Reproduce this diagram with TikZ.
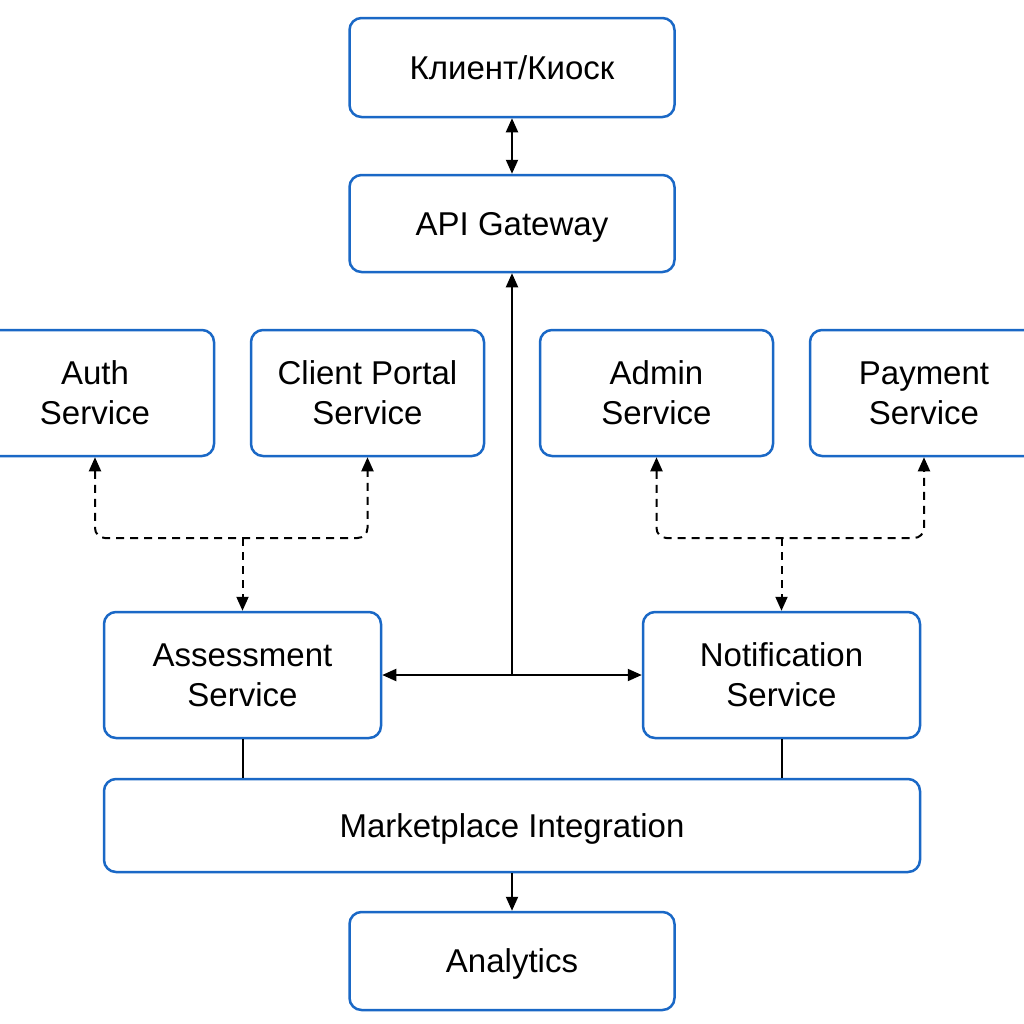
\documentclass[tikz,border=0pt]{standalone}
\usepackage{fontspec}
\setmainfont{Liberation Sans}
\usetikzlibrary{arrows.meta}
\definecolor{boxblue}{RGB}{26,104,198}
\tikzset{
  box/.style={draw=boxblue, line width=1.25pt, rounded corners=6pt, fill=white,
    align=center, font=\fontsize{16.5}{20}\selectfont, inner sep=0pt},
  onebox/.style={box, text depth=0pt},
  conn/.style={line width=1pt, draw=black, -{Triangle[length=7pt,width=6pt]}},
  biconn/.style={line width=1pt, draw=black, {Triangle[length=7pt,width=6pt]}-{Triangle[length=7pt,width=6pt]}},
  dconn/.style={line width=1pt, draw=black, dash pattern=on 4pt off 3pt, rounded corners=5pt},
  plain/.style={line width=1pt, draw=black}
}
\begin{document}
\begin{tikzpicture}[x=0.5pt,y=-0.5pt]
\clip (0,0) rectangle (1024,1024);
\fill[white] (0,0) rectangle (1024,1024);
\node[onebox, minimum width=162.5pt, minimum height=49.5pt] (client) at (512,67.5) {Клиент/Киоск};
\node[onebox, minimum width=162.5pt, minimum height=48.5pt] (api) at (512,223.5) {API Gateway};
\node[box, minimum width=119pt, minimum height=63pt] (auth) at (95,393) {Auth\\Service};
\node[box, minimum width=116.5pt, minimum height=63pt] (cps) at (367.5,393) {Client Portal\\Service};
\node[box, minimum width=116.5pt, minimum height=63pt] (admin) at (656.5,393) {Admin\\Service};
\node[box, minimum width=114pt, minimum height=63pt] (pay) at (924,393) {Payment\\Service};
\node[box, minimum width=138.5pt, minimum height=63pt] (assess) at (242.5,675) {Assessment\\Service};
\node[box, minimum width=138.5pt, minimum height=63pt] (notif) at (781.5,675) {Notification\\Service};
\node[onebox, minimum width=408pt, minimum height=46.5pt] (market) at (512,825.5) {Marketplace Integration};
\node[onebox, minimum width=162.5pt, minimum height=49pt] (analytics) at (512,961) {Analytics};

\coordinate (hub) at (512,675);
\coordinate (jl) at (242.5,538);
\coordinate (jr) at (781.5,538);

\draw[biconn] (client) -- (api);
\draw[conn] (hub) -- (api);
\draw[conn] (hub) -- (assess);
\draw[conn] (hub) -- (notif);

\draw[dconn, {Triangle[length=7pt,width=6pt]}-{Triangle[length=7pt,width=6pt]}] (auth.south) |- (jl) -| (cps.south);
\draw[dconn, -{Triangle[length=7pt,width=6pt]}] (jl) -- (assess.north);
\draw[dconn, {Triangle[length=7pt,width=6pt]}-{Triangle[length=7pt,width=6pt]}] (admin.south) |- (jr) -| (pay.south);
\draw[dconn, -{Triangle[length=7pt,width=6pt]}] (jr) -- (notif.north);

\draw[plain] (assess.south) -- (assess.south |- market.north);
\draw[plain] (notif.south) -- (notif.south |- market.north);
\draw[conn] (market) -- (analytics);
\end{tikzpicture}
\end{document}
